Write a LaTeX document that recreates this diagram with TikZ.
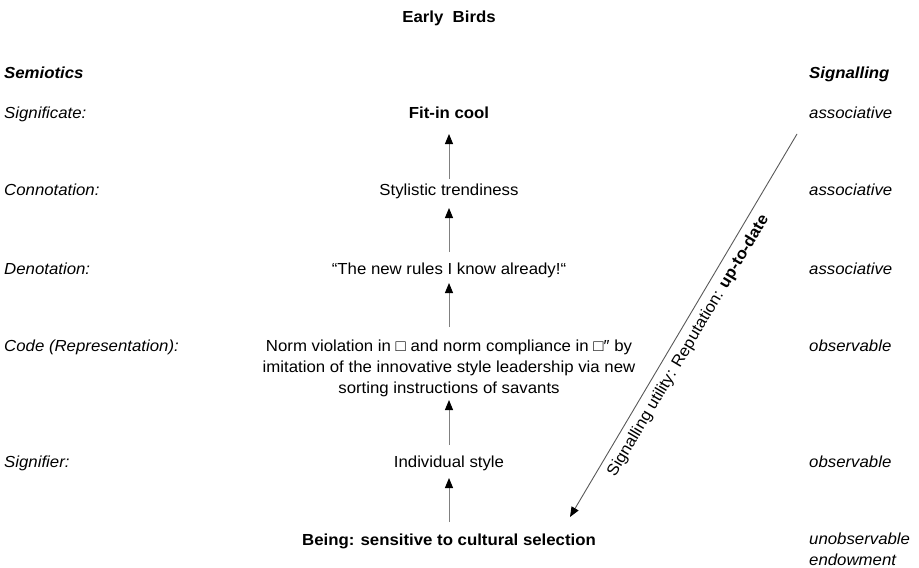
\documentclass[tikz,border=0pt]{standalone}
\usepackage{fontspec}
\setmainfont{Liberation Sans}[FakeStretch=1.05]
\usetikzlibrary{arrows.meta}
\newcommand{\basefont}{\fontsize{16}{21}\selectfont}
\begin{document}
\begin{tikzpicture}[x=1pt,y=-1pt,
  every node/.style={inner sep=0pt, font=\basefont},
  colhead/.style={anchor=base west, font=\basefont\bfseries\itshape},
  rowlab/.style={anchor=base west, font=\basefont\itshape, align=left},
  level/.style={anchor=base, align=center},
  stepup/.style={draw=black!50, line width=1pt,
    -{Triangle[length=10pt,width=8pt,color=black]}},
  sigline/.style={draw=black!65, line width=0.9pt,
    {Triangle[length=10pt,width=8pt,color=black]}-}]

\useasboundingbox (0,0) rectangle (919,568);

% title and column heads
\node[anchor=base, font=\basefont\bfseries] (title) at (449,22) {Early\ \ Birds};
\node[colhead] (semhead) at (4,78) {Semiotics};
\node[colhead] (sighead) at (809,78) {Signalling};

% semiotic levels (left)
\node[rowlab] (l1) at (4,118) {Significate:};
\node[rowlab] (l2) at (4,195) {Connotation:};
\node[rowlab] (l3) at (4,274) {Denotation:};
\node[rowlab] (l4) at (4,351) {Code (Representation):};
\node[rowlab] (l5) at (4,467.5) {Signifier:};

% signalling qualities (right); multi-line nodes sit on their last baseline
\node[rowlab] (r1) at (809,118) {associative};
\node[rowlab] (r2) at (809,195) {associative};
\node[rowlab] (r3) at (809,274) {associative};
\node[rowlab] (r4) at (809,351) {observable};
\node[rowlab] (r5) at (809,467.5) {observable};
\node[rowlab] (r6) at (809,565) {unobservable\\endowment};

% central chain
\node[level, font=\basefont\bfseries] (fit) at (449,118) {Fit-in cool};
\node[level] (style) at (449,195) {Stylistic trendiness};
\node[level] (quote) at (449,274) {“The new rules I know already!“};
\node[level] (code) at (449,393) {Norm violation in □ and norm compliance in □″ by\\imitation of the innovative style leadership via new\\sorting instructions of savants};
\node[level] (indiv) at (449,467.5) {Individual style};
\node[level, font=\basefont\bfseries] (being) at (449,545) {Being: sensitive to cultural selection};

% upward arrows
\draw[stepup] ([yshift=23pt]being.base) -- ([yshift=-10.5pt]indiv.base);
\draw[stepup] ([yshift=22.5pt]indiv.base) -- ([yshift=-7pt]code.base);
\draw[stepup] ([yshift=66pt]code.base) -- ([yshift=-9pt]quote.base);
\draw[stepup] ([yshift=22pt]quote.base) -- ([yshift=-13pt]style.base);
\draw[stepup] ([yshift=16pt]style.base) -- ([yshift=-16pt]fit.base);

% signalling utility arrow
\coordinate (sigtop) at (797,134);
\coordinate (sigend) at (570,517);
\draw[sigline] (sigend) -- (sigtop);
\node[anchor=base, rotate=59.3] (siglab) at (692,348)
  {Signalling utility: Reputation: \textbf{up-to-date}};
\end{tikzpicture}
\end{document}
